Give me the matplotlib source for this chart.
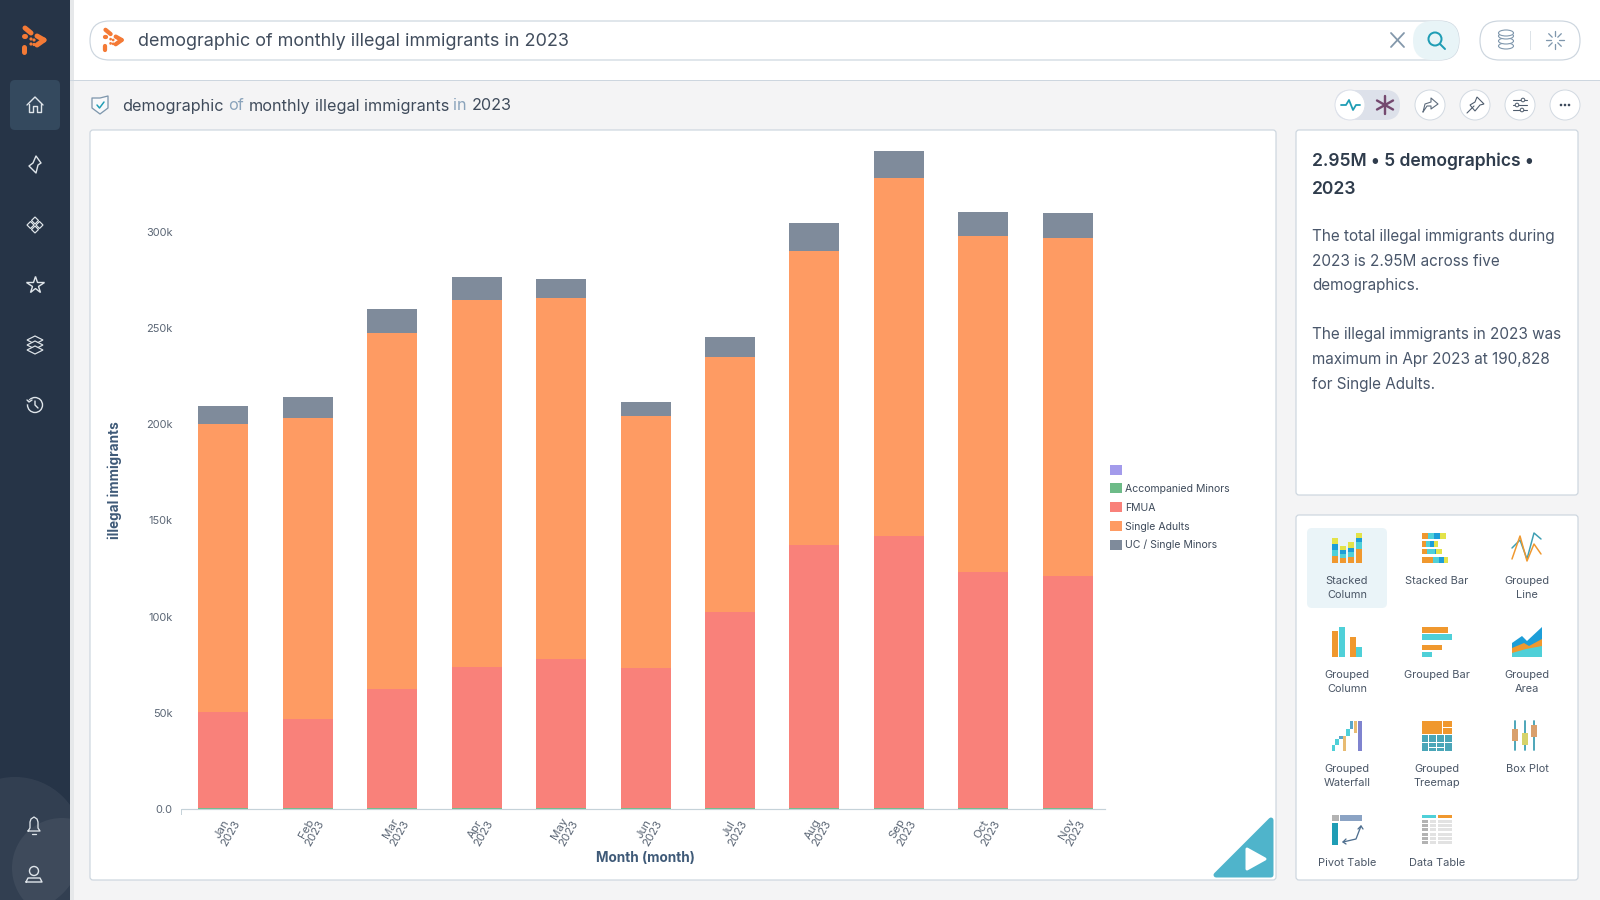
import matplotlib
matplotlib.use("Agg")
import matplotlib.pyplot as plt
from matplotlib.patches import Rectangle, Circle, Polygon, FancyBboxPatch, Ellipse
from matplotlib.lines import Line2D
from matplotlib.transforms import ScaledTranslation

# chart data, thousands of people
months = ["Jan\n2023", "Feb\n2023", "Mar\n2023", "Apr\n2023", "May\n2023", "Jun\n2023",
          "Jul\n2023", "Aug\n2023", "Sep\n2023", "Oct\n2023", "Nov\n2023"]
accompanied = [0.6, 0.6, 0.6, 0.6, 0.6, 0.6, 0.6, 0.6, 0.6, 0.6, 0.6]
fmua = [49.7, 46.0, 61.9, 73.1, 77.3, 72.5, 101.7, 136.7, 141.4, 122.8, 120.7]
single_adults = [149.5, 156.4, 184.8, 191.0, 187.6, 130.9, 132.5, 152.6, 185.8, 174.2, 175.2]
uc_minors = [9.5, 11.1, 12.7, 11.8, 10.1, 7.4, 10.6, 14.8, 14.3, 12.7, 13.3]
unnamed = [0, 0, 0, 0, 0, 0, 0, 0, 0, 0, 0]
legend_names = ["", "Accompanied Minors", "FMUA", "Single Adults", "UC / Single Minors"]
y_ticks = [0, 50, 100, 150, 200, 250, 300]
y_tick_labels = ["0.0", "50k", "100k", "150k", "200k", "250k", "300k"]

query = "demographic of monthly illegal immigrants in 2023"
insight_title = ["2.95M • 5 demographics •", "2023"]
insight_body = ["The total illegal immigrants during", "2023 is 2.95M across five", "demographics.", "",
                "The illegal immigrants in 2023 was", "maximum in Apr 2023 at 190,828", "for Single Adults."]

GREEN, RED, ORANGE, GREY, PURPLE = "#6dbb88", "#f9817a", "#fe9b63", "#7f8b9b", "#a39beb"
NAVY = "#263447"
INK = "#3c4a5c"
LINE = "#cdd6df"
I_OR, I_TE, I_BL, I_YE = "#f0982e", "#4fd0d8", "#1d9ed8", "#e3e34a"

FONT = "Inter"
plt.rcParams["font.family"] = [FONT, "DejaVu Sans"]

fig = plt.figure(figsize=(16, 9), dpi=100, facecolor="#f4f4f5")
ui = fig.add_axes([0, 0, 1, 1])
ui.set_xlim(0, 1600)
ui.set_ylim(900, 0)
ui.axis("off")


def px(size):
    return size * 0.72


def rect(x0, y0, x1, y1, color, z=2, ax=ui):
    ax.add_patch(Rectangle((x0, y0), x1 - x0, y1 - y0, fc=color, ec="none", zorder=z))


def round_box(x0, y0, x1, y1, r, fc, ec="none", lw=1, z=1):
    ui.add_patch(FancyBboxPatch((x0 + r, y0 + r), x1 - x0 - 2 * r, y1 - y0 - 2 * r,
                                boxstyle="round,pad=%g,rounding_size=%g" % (r, r),
                                fc=fc, ec=ec, lw=px(lw), zorder=z))


def line(xs, ys, color="#dfe5ea", lw=1.4, z=5):
    ui.add_line(Line2D(xs, ys, color=color, lw=px(lw), zorder=z,
                       solid_capstyle="round", solid_joinstyle="round"))


def ring(x, y, r, color="#dfe5ea", lw=1.4, fc="none", z=5):
    ui.add_patch(Circle((x, y), r, fc=fc, ec=color, lw=px(lw), zorder=z))


def label(x, y, s, size, color=INK, ha="left", weight="normal", z=6):
    return ui.text(x, y, s, fontsize=px(size), color=color, ha=ha, va="center",
                   fontweight=weight, zorder=z)


# page frame
rect(0, 0, 1600, 80, "white", 0)
rect(70, 80, 1600, 81, LINE, 1)
rect(0, 0, 70, 900, NAVY, 1)
rect(70, 0, 74, 900, "#e6e8ea", 0.5)
side = Rectangle((0, 0), 70, 900, transform=ui.transData)
for cx, cy, r in [(15, 845, 68), (62, 868, 50)]:
    blob = Circle((cx, cy), r, fc="#ffffff", alpha=0.06, ec="none", zorder=2)
    ui.add_patch(blob)
    blob.set_clip_path(side)
round_box(10, 80, 60, 130, 5, "#34495e", z=2)

# logo
def logo(x, y, k):
    for x0, y0, x1, y1, lw in [(-10, -12, -4, -7, 5), (-11, -4, -10, -4, 5), (-11, 7, -11, 12, 5),
                               (2, -4, 9, 0, 5), (9, 0, 2, 5, 5)]:
        line([x + x0 * k, x + x1 * k], [y + y0 * k, y + y1 * k], "#f47a36", lw * k)
    for dx, dy in [(-4, -1), (-1, 0), (-4, 4), (-1, 4.5)]:
        ui.add_patch(Circle((x + dx * k, y + dy * k), 1.6 * k, fc="#f47a36", ec="none", zorder=6))


logo(35, 40, 1.0)
logo(114, 40, 0.85)

# sidebar icons
line([27, 35, 43], [105, 97, 105])
line([29, 29, 33, 33, 37, 37, 41, 41], [104, 112, 112, 106, 106, 112, 112, 104])
ui.add_patch(Polygon([(36, 156), (41, 163), (38, 165), (36, 173), (29, 166), (33, 163)], fc="none",
                     ec="#dfe5ea", lw=px(1.4), joinstyle="round", zorder=5))
for dx, dy in [(0, -4.5), (-4.5, 0), (4.5, 0), (0, 4.5)]:
    ui.add_patch(Polygon([(35 + dx, 225 + dy - 3.5), (35 + dx + 3.5, 225 + dy), (35 + dx, 225 + dy + 3.5),
                          (35 + dx - 3.5, 225 + dy)], fc="none", ec="#dfe5ea", lw=px(1.2), zorder=5))
ui.plot([35], [285], marker="*", ms=13, mfc="none", mec="#dfe5ea", mew=px(1.4), zorder=5)
for dy in [-5, 0, 5]:
    ui.add_patch(Polygon([(27, 345 + dy), (35, 341 + dy), (43, 345 + dy), (35, 349 + dy)], fc=NAVY,
                         ec="#dfe5ea", lw=px(1.2), zorder=5))
ring(35, 405, 7.5)
line([35, 35, 38], [401, 405, 408])
line([26, 28, 31], [399, 403, 401], NAVY, 3)
line([27, 29, 32], [400, 402, 400])
# bell
line([28, 30, 30, 31, 34, 37, 38, 38, 40, 28], [831, 828, 822, 819, 817, 819, 822, 828, 831, 831], lw=1.3)
line([32, 36], [834, 834], lw=1.3)
ring(34, 871, 4.5)
line([26, 28, 40, 42, 26], [882, 878, 878, 882, 882])

# search bar
round_box(90, 21, 1459, 60, 19.5, "white", LINE, 1.2)
label(138, 41, query, 18, "#414d5d")
line([1391, 1404], [33, 47], "#8398ab", 1.8)
line([1391, 1404], [47, 33], "#8398ab", 1.8)
round_box(1413, 21, 1459, 60, 19.5, "#e8f4f7", "none", z=2)
ring(1435, 39, 6.5, "#1f9db5", 2)
line([1440, 1445], [44, 49], "#1f9db5", 2)
round_box(1480, 21, 1580, 60, 19.5, "white", LINE, 1.2)
for cy in [46, 41, 36, 33]:
    ui.add_patch(Ellipse((1506, cy), 15, 6, fc="white", ec="#7f97ad", lw=px(1.1), zorder=5))
rect(1530, 31, 1531, 50, "#dde3e8", 5)
for dx, dy in [(0, -1), (0, 1), (-1, 0), (1, 0), (-0.7, -0.7), (0.7, 0.7), (-0.7, 0.7), (0.7, -0.7)]:
    line([1555 + dx * 4, 1555 + dx * 9], [40 + dy * 4, 40 + dy * 9], "#7f97ad", 1.3)

# question line
ui.add_patch(Polygon([(100, 98), (108, 96), (108, 108), (100, 114), (92, 108), (92, 98)], fc="#f8f9fb",
                     ec="#7f97ad", lw=px(1.3), joinstyle="round", zorder=5))
line([97, 99.5, 104], [105, 108, 102], "#1f9db5", 1.5)

canvas = fig.canvas.get_renderer()


def text_width(s, size):
    t = ui.text(0, 0, s, fontsize=px(size))
    w = t.get_window_extent(canvas).width
    t.remove()
    return w


x_pos = 122
gap = text_width("a a", 16.2) - text_width("aa", 16.2)
for word in query.split(" "):
    label(x_pos, 106, word, 16.2, "#8aa3bb" if word in ("of", "in") else "#3f4b5b")
    x_pos += text_width(word, 16.2) + gap

# toolbar
round_box(1335, 90, 1400, 120, 15, "#dde1ea", z=2)
ring(1350, 105, 15, "#dde1ea", 1, "white", z=3)
line([1341, 1346, 1349, 1353, 1356, 1360], [105, 105, 100, 110, 105, 105], "#1f9db5", 1.8)
for dx, dy in [(0, -9), (0, 9), (-8, -4.5), (8, 4.5), (-8, 4.5), (8, -4.5)]:
    line([1385, 1385 + dx], [105, 105 + dy], "#74496f", 2.4)
for cx in [1430, 1475, 1520, 1565]:
    ring(cx, 105, 15, "#d3dae2", 1, "white", z=3)
line([1423, 1425, 1431, 1431, 1438, 1431, 1431, 1427, 1423], [112, 104, 102, 98, 104, 109, 106, 106, 112], "#5d6b7c", 1.1)
line([1467, 1474], [113, 106], "#4f5d6e", 1.1)
ui.add_patch(Polygon([(1477, 97), (1484, 104), (1480, 105), (1475, 111), (1470, 105), (1475, 102)], fc="none",
                     ec="#4f5d6e", lw=px(1.1), zorder=5))
for dy, dx in [(-5, 3), (0, -3), (5, 2)]:
    line([1513, 1527], [105 + dy, 105 + dy], "#4f5d6e", 1.1)
    ring(1520 + dx, 105 + dy, 1.8, "#4f5d6e", 1, "white", z=6)
for dx in [-4, 0, 4]:
    ui.add_patch(Circle((1565 + dx, 105), 1.3, fc="#3c4a5c", ec="none", zorder=5))

# cards
round_box(90, 130, 1276, 880, 3, "white", LINE, 1.2)
round_box(1296, 130, 1578, 495, 3, "white", LINE, 1.2)
round_box(1296, 515, 1578, 880, 3, "white", LINE, 1.2)

# insight text
for i, s in enumerate(insight_title):
    label(1312, 161 + i * 28.5, s, 17.5, "#2f3c4c", weight="semibold")
for i, s in enumerate(insight_body):
    label(1312, 236.5 + i * 24.6, s, 15.3, "#49566a")

# chart type picker
round_box(1307, 528, 1387, 608, 5, "#eaf4f8", z=2)
tile_x = [1347, 1437, 1527]
tile_y = [548, 642, 736, 830]
tile_names = [["Stacked\nColumn", "Stacked Bar", "Grouped\nLine"],
              ["Grouped\nColumn", "Grouped Bar", "Grouped\nArea"],
              ["Grouped\nWaterfall", "Grouped\nTreemap", "Box Plot"],
              ["Pivot Table", "Data Table", ""]]
for row, names in enumerate(tile_names):
    for col, name in enumerate(names):
        ui.text(tile_x[col], tile_y[row] + 28, name, fontsize=px(11), color="#4a5666", ha="center", va="top",
                linespacing=1.5, zorder=6)


def icon_rects(col, row, boxes):
    ox, oy = tile_x[col] - 15, tile_y[row] - 15
    for x0, y0, x1, y1, c in boxes:
        rect(ox + x0, oy + y0, ox + x1, oy + y1, c, 5)


icon_rects(0, 0, [(0, 23, 6, 30, I_OR), (0, 17, 6, 23, I_TE), (0, 11, 6, 17, I_BL), (0, 5, 6, 11, I_YE),
                  (8, 25, 14, 30, I_OR), (8, 21, 14, 25, I_TE), (8, 17, 14, 21, I_BL), (8, 13, 14, 17, I_YE),
                  (16, 24, 22, 30, I_OR), (16, 19, 22, 24, I_TE), (16, 15, 22, 19, I_BL), (16, 9, 22, 15, I_YE),
                  (24, 16, 30, 30, I_OR), (24, 9, 30, 16, I_TE), (24, 5, 30, 9, I_BL), (24, 0, 30, 5, I_YE)])
icon_rects(1, 0, [(0, 0, 6, 6, I_OR), (6, 0, 12, 6, I_TE), (12, 0, 18, 6, I_BL), (18, 0, 24, 6, I_YE),
                  (0, 8, 4, 14, I_OR), (4, 8, 8, 14, I_TE), (8, 8, 12, 14, I_BL), (12, 8, 16, 14, I_YE),
                  (0, 16, 5, 21, I_OR), (5, 16, 13, 21, I_TE), (13, 16, 14, 21, I_BL), (14, 16, 20, 21, I_YE),
                  (0, 24, 11, 30, I_OR), (11, 24, 17, 30, I_TE), (17, 24, 22, 30, I_BL), (22, 24, 26, 30, I_YE)])
ox, oy = tile_x[2] - 15, tile_y[0] - 15
line([ox + v for v in [0, 8, 15, 22, 29]], [oy + v for v in [15, 7, 26, 0, 6]], "#3e9fb3", 1.5)
line([ox + v for v in [0, 8, 15, 22, 29]], [oy + v for v in [26, 3, 28, 11, 21]], I_OR, 1.5)
icon_rects(0, 1, [(0, 4, 6, 30, I_OR), (7, 0, 13, 30, I_TE), (18, 10, 24, 30, I_OR), (24, 20, 30, 30, I_TE)])
icon_rects(1, 1, [(0, 0, 26, 6, I_OR), (0, 7, 30, 13, I_TE), (0, 18, 20, 23, I_OR), (0, 25, 10, 30, I_TE)])
ox, oy = tile_x[2] - 15, tile_y[1] - 15
ui.add_patch(Polygon([(ox, oy + 16), (ox + 10, oy + 9), (ox + 15, oy + 14), (ox + 30, oy), (ox + 30, oy + 30), (ox, oy + 30)],
                     fc=I_BL, ec="none", zorder=5))
ui.add_patch(Polygon([(ox, oy + 21), (ox + 12, oy + 16), (ox + 17, oy + 19), (ox + 30, oy + 12), (ox + 30, oy + 30), (ox, oy + 30)],
                     fc=I_OR, ec="none", zorder=5))
ui.add_patch(Polygon([(ox, oy + 26), (ox + 14, oy + 22), (ox + 30, oy + 19), (ox + 30, oy + 30), (ox, oy + 30)],
                     fc=I_TE, ec="none", zorder=5))
icon_rects(0, 2, [(0, 24, 3, 30, I_TE), (3, 18, 7, 24, I_TE), (7, 15, 11, 18, "#5aa6c9"), (11, 15, 14, 30, "#e8bb72"),
                  (14, 8, 18, 15, I_TE), (18, 0, 21, 8, "#5aa6c9"), (22, 0, 25, 12, "#e8bb72"), (26, 0, 30, 30, "#7f83cf")])
icon_rects(1, 2, [(0, 0, 20, 13, I_OR), (21, 0, 30, 6, I_OR), (21, 7, 30, 13, I_OR), (0, 14, 30, 30, "#4aa6b8"),
                  (6, 14, 7, 30, "white"), (14, 14, 15, 30, "white"), (22, 14, 23, 30, "white"),
                  (0, 21, 30, 22, "white"), (7, 26, 22, 27, "white")])
ox, oy = tile_x[2] - 15, tile_y[2] - 15
for dx in [3, 12.5, 22]:
    line([ox + dx, ox + dx], [oy, oy + 29], "#3e9fb3", 1.8)
icon_rects(2, 2, [(0, 8, 6, 20, "#d9a06d"), (9.5, 12, 15.5, 24, "#d6d36a"), (19, 4, 25, 16, "#d9a06d")])
icon_rects(0, 3, [(0, 0, 7, 6, "#b3b3b3"), (8, 0, 30, 6, "#8ba3c4"), (0, 8, 6, 30, "#1f9db5")])
ox, oy = tile_x[0] - 15, tile_y[3] - 15
line([ox + 11, ox + 24, ox + 29], [oy + 27, oy + 24, oy + 11], "#4f6f8f", 1.3)
line([ox + 14, ox + 11, ox + 14], [oy + 24, oy + 27, oy + 29], "#4f6f8f", 1.3)
line([ox + 26, ox + 29, ox + 31], [oy + 14, oy + 11, oy + 14], "#4f6f8f", 1.3)
table_boxes = [(0, 0, 14, 3, I_TE), (16, 0, 30, 3, I_OR)]
for i in range(6):
    y0 = 5 + i * 4.2
    table_boxes += [(0, y0, 6, y0 + 3, "#b3b3b3"), (8, y0, 14, y0 + 3, "#e2e2e2"), (16, y0, 30, y0 + 3, "#e2e2e2")]
icon_rects(1, 3, table_boxes)

# play corner
ui.add_patch(Polygon([(1216, 875), (1271, 820), (1271, 875)], fc="#4fb4cb", ec="#4fb4cb", lw=px(5),
                     joinstyle="round", zorder=5))
ui.add_patch(Polygon([(1247, 849), (1265, 859), (1247, 869)], fc="white", ec="white", lw=px(3),
                     joinstyle="round", zorder=6))

# the chart
ax = fig.add_axes([181.7 / 1600, (900 - 809.2) / 900, (1105 - 181.7) / 1600, 673.9 / 900])
ax.patch.set_alpha(0)
x = list(range(len(months)))
w = 0.592
bottom = [0.0] * len(months)
for values, color in [(accompanied, GREEN), (fmua, RED), (single_adults, ORANGE), (uc_minors, GREY), (unnamed, PURPLE)]:
    ax.bar(x, values, w, bottom=bottom, color=color, linewidth=0)
    bottom = [b + v for b, v in zip(bottom, values)]

ax.set_xlim(-0.491, 10.44)
ax.set_ylim(0, 350)
ax.set_yticks(y_ticks)
ax.set_yticklabels(y_tick_labels, fontsize=px(11), color="#5b6675")
ax.tick_params(axis="y", length=0, pad=6.5)
ax.set_xticks(x)
ax.set_xticklabels(months, fontsize=px(11.5), color="#5b6675", rotation=60, ha="center", va="top",
                   linespacing=1.0)
ax.tick_params(axis="x", length=0, pad=3.5)
nudge = ScaledTranslation(3 / 100, 0, fig.dpi_scale_trans)
for tick_text in ax.get_xticklabels():
    tick_text.set_transform(tick_text.get_transform() + nudge)
for side_name in ["top", "right", "left"]:
    ax.spines[side_name].set_visible(False)
ax.spines["bottom"].set_color("#c5d2d9")
ax.spines["bottom"].set_linewidth(px(1.2))
rect(181.2, 809, 182.2, 815, "#c5d2d9", 5)

fig.text(115 / 1600, 1 - 480 / 900, "illegal immigrants", rotation=90, fontsize=px(13.5), fontweight="bold",
         color="#3f5a78", ha="center", va="center")
fig.text(645 / 1600, 1 - 858 / 900, "Month (month)", fontsize=px(13.5), fontweight="bold",
         color="#3f5a78", ha="center", va="center")

handles = [Rectangle((0, 0), 1, 1, fc=c, ec="none") for c in [PURPLE, GREEN, RED, ORANGE, GREY]]
ax.legend(handles, legend_names, loc="center left", bbox_to_anchor=(1110 / 1600, 1 - 507.5 / 900),
          bbox_transform=fig.transFigure, frameon=False, fontsize=px(10.5), labelcolor="#3f4b5b",
          handlelength=1.1, handleheight=1.1, handletextpad=0.32, labelspacing=0.78, borderpad=0, borderaxespad=0)

fig.savefig("out.png", dpi=100, facecolor=fig.get_facecolor())
